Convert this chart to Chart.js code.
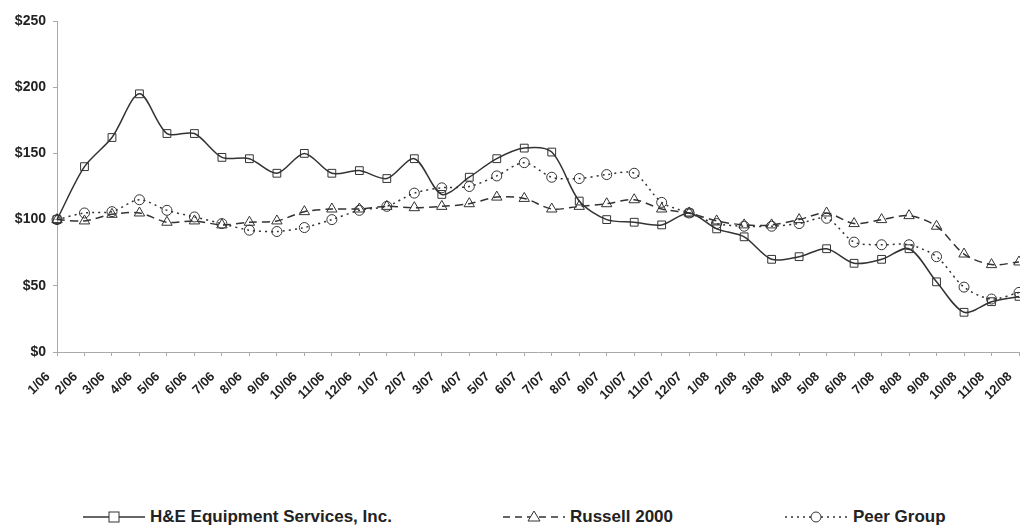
<!DOCTYPE html>
<html>
<head>
<meta charset="utf-8">
<script src="https://cdn.jsdelivr.net/npm/chart.js@4"></script>
<style>
  body { margin: 0; background: #fff; font-family: "Liberation Sans", Arial, sans-serif; }
  #wrap { position: absolute; top: 0; left: 0; width: 1020px; height: 410px; }
  #legend { position: absolute; top: 507px; left: 0; width: 1020px; height: 20px; }
  .item { position: absolute; top: 0; display: flex; align-items: center; font-weight: bold; font-size: 17px; color: #222; }
  .item svg { margin-right: 5px; }
</style>
</head>
<body>
<div id="wrap"><canvas id="tsrChart" width="1020" height="410"></canvas></div>
<div id="legend">
  <div class="item" style="left:83px">
    <svg width="62" height="14"><line x1="0" y1="7" x2="62" y2="7" stroke="#333" stroke-width="1.5"/><rect x="26" y="2" width="10" height="10" fill="#fff" stroke="#333"/></svg>
    <span>H&amp;E Equipment Services, Inc.</span>
  </div>
  <div class="item" style="left:503px">
    <svg width="62" height="14"><line x1="0" y1="7" x2="62" y2="7" stroke="#333" stroke-width="1.5" stroke-dasharray="7,5"/><polygon points="31,1 37,11 25,11" fill="#fff" stroke="#333"/></svg>
    <span>Russell 2000</span>
  </div>
  <div class="item" style="left:785px">
    <svg width="63" height="14"><line x1="0" y1="7" x2="63" y2="7" stroke="#333" stroke-width="1.5" stroke-dasharray="2,4"/><circle cx="31" cy="7" r="5" fill="#fff" stroke="#333"/></svg>
    <span>Peer Group</span>
  </div>
</div>
<script>
const months = [
  '1/06', '2/06', '3/06', '4/06', '5/06', '6/06', '7/06', '8/06', '9/06', '10/06', '11/06', '12/06',
  '1/07', '2/07', '3/07', '4/07', '5/07', '6/07', '7/07', '8/07', '9/07', '10/07', '11/07', '12/07',
  '1/08', '2/08', '3/08', '4/08', '5/08', '6/08', '7/08', '8/08', '9/08', '10/08', '11/08', '12/08'
];

const heValues = [
  100, 140, 162, 195, 165, 165, 147, 146, 135, 150, 135, 137,
  131, 146, 119, 132, 146, 154, 151, 114, 100, 98, 96, 105,
  93, 87, 70, 72, 78, 67, 70, 78, 53, 30, 38, 42
];

const russellValues = [
  100, 99, 104, 105, 98, 99, 96, 98, 99, 106, 108, 108,
  110, 109, 110, 112, 117, 116, 108, 110, 112, 115, 108, 105,
  99, 96, 96, 100, 105, 97, 100, 103, 95, 74, 66, 68
];

const peerValues = [
  100, 105, 106, 115, 107, 102, 97, 92, 91, 94, 100, 107,
  110, 120, 124, 125, 133, 143, 132, 131, 134, 135, 113, 105,
  97, 95, 95, 97, 101, 83, 81, 81, 72, 49, 40, 45
];

const yTicks = [0, 50, 100, 150, 200, 250];

const ink = '#333';

const ctx = document.getElementById('tsrChart').getContext('2d');
const chart = new Chart(ctx, {
  type: 'line',
  data: {
    labels: months,
    datasets: [
      {
        label: 'H&E Equipment Services, Inc.',
        data: heValues,
        borderColor: ink,
        borderWidth: 1.5,
        tension: 0.3,
        pointStyle: 'rect',
        pointRadius: 5.5,
        pointBorderWidth: 1,
        pointBackgroundColor: 'rgba(255,255,255,0)',
        pointBorderColor: ink
      },
      {
        label: 'Russell 2000',
        data: russellValues,
        borderColor: ink,
        borderWidth: 1.5,
        borderDash: [8, 5],
        tension: 0.3,
        pointStyle: 'triangle',
        pointRadius: 6,
        pointBorderWidth: 1,
        pointBackgroundColor: 'rgba(255,255,255,0)',
        pointBorderColor: ink
      },
      {
        label: 'Peer Group',
        data: peerValues,
        borderColor: ink,
        borderWidth: 1.5,
        borderDash: [2, 4],
        tension: 0.3,
        pointStyle: 'circle',
        pointRadius: 5,
        pointBorderWidth: 1,
        pointBackgroundColor: 'rgba(255,255,255,0)',
        pointBorderColor: ink
      }
    ]
  },
  options: {
    responsive: false,
    animation: false,
    layout: { autoPadding: false, padding: { top: 21, right: 1, left: 0, bottom: 0 } },
    plugins: {
      legend: { display: false },
      tooltip: { enabled: false }
    },
    scales: {
      x: {
        offset: false,
        afterFit: s => { s.height = 58; s.paddingRight = 0; s.paddingLeft = 0; },
        grid: { display: true, drawOnChartArea: false, drawTicks: true, tickLength: 4, color: '#aaa' },
        border: { color: '#aaa' },
        ticks: {
          autoSkip: false,
          maxRotation: 45,
          minRotation: 45,
          padding: 13,
          labelOffset: -9,
          color: '#222',
          font: { family: 'Liberation Sans', size: 13, weight: 'bold' }
        }
      },
      y: {
        min: 0,
        max: 250,
        afterFit: s => { s.width = 57; s.paddingTop = 0; s.paddingBottom = 0; },
        afterBuildTicks: axis => { axis.ticks = yTicks.map(v => ({ value: v })); },
        grid: { display: true, drawOnChartArea: false, drawTicks: true, tickLength: 4, color: '#aaa' },
        border: { color: '#aaa' },
        ticks: {
          padding: 7,
          color: '#222',
          font: { family: 'Liberation Sans', size: 14, weight: 'bold' },
          callback: v => '$' + v
        }
      }
    }
  }
});
</script>
</body>
</html>
